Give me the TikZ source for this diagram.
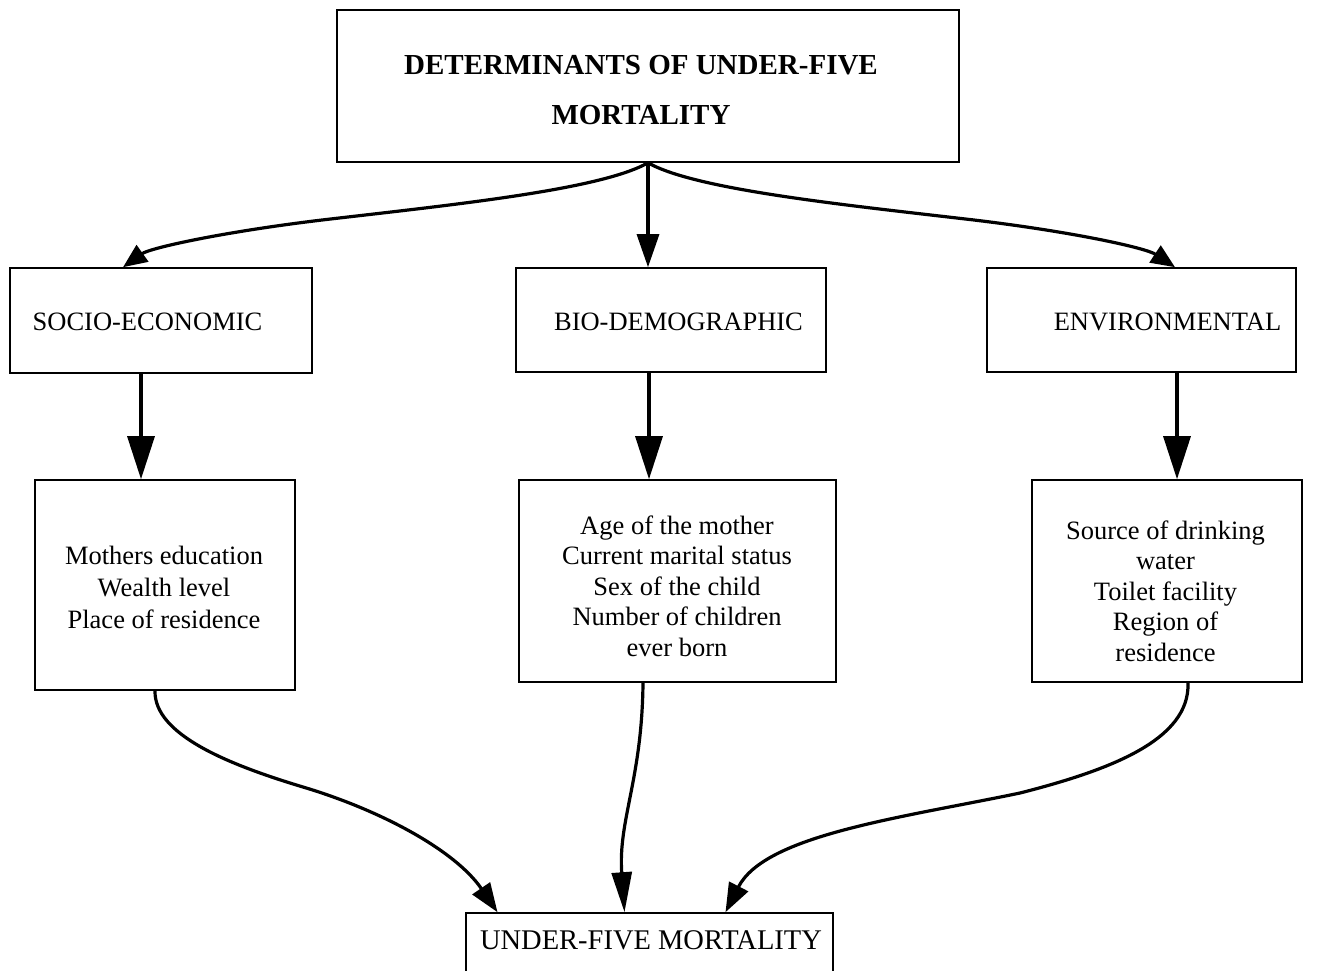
\documentclass[tikz,border=0pt]{standalone}
\usepackage{fontspec}
\setmainfont{Liberation Serif}
\usetikzlibrary{arrows.meta}
\begin{document}
\begin{tikzpicture}[x=1pt,y=-1pt,
  box/.style={draw, line width=1.6pt, inner sep=0pt},
  txt/.style={inner sep=0pt, align=center, font=\fontsize{26.5}{30.5}\selectfont},
  conn/.style={line width=3.2pt},
  smalltip/.style={conn, -{Triangle[length=24pt,width=20pt]}},
  midtip/.style={conn, -{Triangle[length=33pt,width=22pt]}},
  bigtip/.style={conn, -{Triangle[length=43pt,width=27pt]}},
  lowtip/.style={conn, -{Triangle[length=29pt,width=21pt]}},
  lowmid/.style={conn, -{Triangle[length=40pt,width=20pt]}}]
\useasboundingbox (0,0) rectangle (1324,970);
\clip (0,0) rectangle (1324,970);
% boxes
\node[box, minimum width=622pt, minimum height=152pt] (top) at (648,86) {};
\node[box, minimum width=302pt, minimum height=105pt] (socio) at (161,320.5) {};
\node[box, minimum width=310pt, minimum height=104pt] (bio) at (671,320) {};
\node[box, minimum width=309pt, minimum height=104pt] (env) at (1141.5,320) {};
\node[box, minimum width=260pt, minimum height=210pt] (moth) at (165,585) {};
\node[box, minimum width=317pt, minimum height=202pt] (age) at (677.5,581) {};
\node[box, minimum width=270pt, minimum height=202pt] (src) at (1167,581) {};
\node[box, minimum width=367pt, minimum height=84pt] (u5) at (649.5,955) {};
% texts
\node[inner sep=0pt, align=center, font=\fontsize{29}{50}\selectfont\bfseries] (toptxt) at (641,90) {DETERMINANTS OF UNDER-FIVE\\MORTALITY};
\node[txt] (sociotxt) at (147.5,322) {SOCIO-ECONOMIC};
\node[txt] (biotxt) at (678.5,322) {BIO-DEMOGRAPHIC};
\node[txt] (envtxt) at (1167.5,322) {ENVIRONMENTAL};
\node[txt, font=\fontsize{26.5}{32}\selectfont] (mothtxt) at (164,587) {Mothers education\\Wealth level\\Place of residence};
\node[txt] (agetxt) at (677,586) {Age of the mother\\Current marital status\\Sex of the child\\Number of children\\ever born};
\node[txt] (srctxt) at (1165.5,591) {Source of drinking\\water\\Toilet facility\\Region of\\residence};
\node[txt, font=\fontsize{28.5}{32}\selectfont] (u5txt) at (651,940) {UNDER-FIVE MORTALITY};
% top connectors
\draw[smalltip] (top.south) .. controls (600,190) and (450,205) .. (322,220)
  .. controls (222,232) and (150,248) .. ([xshift=-38pt]socio.north);
\draw[midtip] (top.south) -- (top.south |- bio.north);
\draw[smalltip] (top.south) .. controls (696,190) and (846,205) .. (974,220)
  .. controls (1074,232) and (1146,248) .. ([xshift=33.5pt]env.north);
% straight connectors
\draw[bigtip] ([xshift=-20pt]socio.south) -- ([xshift=-20pt]socio.south |- moth.north);
\draw[bigtip] ([xshift=-22pt]bio.south) -- ([xshift=-22pt]bio.south |- age.north);
\draw[bigtip] ([xshift=35.5pt]env.south) -- ([xshift=35.5pt]env.south |- src.north);
% bottom connectors
\draw[lowtip] ([xshift=-10pt]moth.south) .. controls (154,735) and (230,765) .. (303,787)
  .. controls (380,810) and (455,850) .. ([xshift=-152pt]u5.north);
\draw[lowmid] ([xshift=-34.5pt]age.south) .. controls (642,780) and (618,820) .. ([xshift=-25pt]u5.north);
\draw[lowtip] ([xshift=21pt]src.south) .. controls (1190,740) and (1110,770) .. (1020,793)
  .. controls (900,818) and (765,835) .. ([xshift=76pt]u5.north);
\end{tikzpicture}
\end{document}
